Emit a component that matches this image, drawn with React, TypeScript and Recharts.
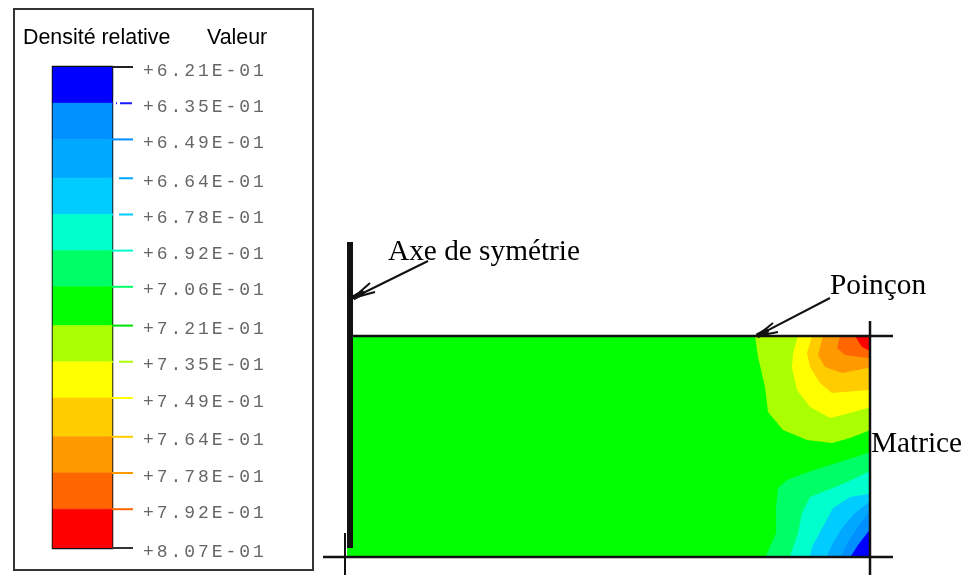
import React from "react";
import { BarChart, Bar, XAxis, YAxis, ReferenceArea, ComposedChart, Area, ReferenceLine } from "recharts";

// ---------- colour scale (relative density) ----------
const scaleEdges = [0.621, 0.635, 0.649, 0.664, 0.678, 0.692, 0.706, 0.721, 0.735, 0.749, 0.764, 0.778, 0.792, 0.807];
const scaleLabels = ["+6.21E-01", "+6.35E-01", "+6.49E-01", "+6.64E-01", "+6.78E-01", "+6.92E-01", "+7.06E-01", "+7.21E-01", "+7.35E-01", "+7.49E-01", "+7.64E-01", "+7.78E-01", "+7.92E-01", "+8.07E-01"];
const bandColors = ["#0000ff", "#0090ff", "#00a8ff", "#00ccff", "#00ffcc", "#00ff66", "#00ff00", "#aaff00", "#ffff00", "#ffcc00", "#ff9900", "#ff6600", "#ff0000"];
const tickColors = ["#222222", "#1a1aff", "#0090ff", "#00a8ff", "#00ccff", "#00ffcc", "#00ff66", "#00e000", "#aaff00", "#ffff00", "#ffcc00", "#ff9900", "#ff6600", "#333333"];
const tickDashes = ["", "1 3 1 3 12", "", "0 7 14", "1 6 14", "", "", "", "1 6 14", "", "", "", "", ""];

// ---------- contour boundaries, part coordinates ----------
type Pt = [number, number];
const PART_LEFT = -2;
const PART_W = 521;
const PART_H = 220;
const punchContours: { color: string; pts: Pt[] }[] = [
  { color: "#aaff00", pts: [[406, 0], [409, 21], [416, 51], [419, 76], [434, 94], [458, 104], [483, 107], [501, 102], [519, 95], [521, 94]] },
  { color: "#ffff00", pts: [[449, 0], [444, 17], [443, 32], [448, 54], [461, 71], [481, 82], [501, 77], [519, 72], [521, 71]] },
  { color: "#ffcc00", pts: [[463, 0], [458, 17], [461, 31], [471, 47], [483, 57], [519, 54], [521, 54]] },
  { color: "#ff9900", pts: [[474, 0], [469, 19], [476, 31], [493, 37], [519, 32], [521, 31]] },
  { color: "#ff6600", pts: [[491, 0], [488, 12], [496, 19], [519, 22], [521, 22]] },
  { color: "#ff0000", pts: [[506, 0], [513, 11], [519, 14], [521, 14]] },
];
const dieContours: { color: string; pts: Pt[] }[] = [
  { color: "#00ff66", pts: [[417, 220], [427, 197], [427, 171], [429, 152], [438, 144], [459, 136], [519, 117], [521, 116]] },
  { color: "#00ffcc", pts: [[441, 220], [449, 197], [453, 177], [461, 161], [496, 147], [521, 135]] },
  { color: "#00ccff", pts: [[461, 220], [463, 211], [476, 187], [484, 172], [501, 161], [519, 158], [521, 158]] },
  { color: "#00a8ff", pts: [[478, 220], [483, 209], [493, 192], [506, 177], [519, 167], [521, 166]] },
  { color: "#0090ff", pts: [[492, 220], [499, 206], [509, 191], [519, 177], [521, 176]] },
  { color: "#0000ff", pts: [[502, 220], [509, 209], [519, 196], [521, 194]] },
];

// ---------- tooling lines and arrows, part coordinates ----------
type Seg = [number, number, number, number, number];
const toolSegments: Seg[] = [
  [0, 0, 544, 0, 2.5],
  [-26, 221, 544, 221, 2.5],
  [521, -15, 521, 239, 2.5],
  [-4, 197, -4, 239, 2],
  [1, -94, 1, 212, 6],
  [79, -75, 4, -38, 2],
  [4, -38, 21, -53, 2],
  [4, -38, 26, -44, 2],
  [4, -38, 15, -44, 5],
  [481, -38, 408, 0, 2],
  [408, 0, 424, -13, 2],
  [408, 0, 429, -4, 2],
  [408, 0, 419, -6, 5],
];

const scaleRow: Record<string, number | string> = { name: "scale" };
bandColors.forEach((_, i) => {
  scaleRow["b" + i] = i === 0 ? scaleEdges[1] : scaleEdges[i + 1] - scaleEdges[i];
});

const ScaleTick = (props: any) => {
  const { x, y, index } = props;
  return (
    <g>
      <line x1={x} x2={x + 21} y1={y} y2={y} stroke={tickColors[index]} strokeWidth={2} strokeDasharray={tickDashes[index] || undefined} />
      <text x={x + 31} y={y + 8.5} fontFamily="'Liberation Mono', monospace" fontSize={18} fill="#666666" letterSpacing={2.95}>
        {scaleLabels[index]}
      </text>
    </g>
  );
};

const textBase: React.CSSProperties = { position: "absolute", whiteSpace: "nowrap", lineHeight: 1, color: "#000" };
const sans: React.CSSProperties = { ...textBase, fontFamily: "'Liberation Sans', Arial, sans-serif", fontSize: 21.4 };
const serif: React.CSSProperties = { ...textBase, fontFamily: "'Liberation Serif', 'Times New Roman', serif", fontSize: 29.3 };

export default function App() {
  return (
    <div style={{ position: "absolute", left: 0, top: 0, width: 962, height: 575, background: "#fff", overflow: "hidden", filter: "blur(0.5px)" }}>
      <div style={{ position: "absolute", left: 13, top: 8, width: 297, height: 559, border: "2.5px solid #333" }} />
      <div style={{ position: "absolute", left: 0, top: 0 }}>
        <BarChart width={320} height={575} data={[scaleRow]} margin={{ top: 67, bottom: 27, left: 53, right: 0 }} barCategoryGap={0}>
          <XAxis dataKey="name" hide />
          <YAxis
            orientation="right"
            type="number"
            width={208}
            reversed
            domain={[scaleEdges[0], scaleEdges[scaleEdges.length - 1]]}
            allowDataOverflow
            ticks={scaleEdges}
            interval={0}
            tickSize={0}
            tickMargin={0}
            axisLine={false}
            tickLine={false}
            tick={ScaleTick}
          />
          {bandColors.map((c, i) => (
            <Bar key={c} dataKey={"b" + i} stackId="scale" fill={c} stroke={c} strokeWidth={0.6} isAnimationActive={false} />
          ))}
          <ReferenceArea y1={scaleEdges[0]} y2={scaleEdges[scaleEdges.length - 1]} fill="none" stroke="#111" strokeWidth={2.5} ifOverflow="visible" />
        </BarChart>
      </div>
      <div style={{ position: "absolute", left: 0, top: 0 }}>
        <ComposedChart width={962} height={575} margin={{ top: 0, bottom: 0, left: 0, right: 0 }}>
          <XAxis type="number" dataKey="x" hide domain={[-349, 613]} allowDataOverflow />
          <YAxis type="number" hide reversed domain={[-336, 239]} allowDataOverflow />
          <Area
            data={[{ x: PART_LEFT, band: [0, PART_H] }, { x: PART_W, band: [0, PART_H] }]}
            dataKey="band"
            type="linear"
            fill="#00ff00"
            fillOpacity={1}
            stroke="none"
            dot={false}
            activeDot={false}
            isAnimationActive={false}
          />
          {punchContours.map((c) => (
            <Area
              key={c.color}
              data={c.pts.map(([x, y]) => ({ x, band: [0, y] }))}
              dataKey="band"
              type="linear"
              fill={c.color}
              fillOpacity={1}
              stroke="none"
              dot={false}
              activeDot={false}
              isAnimationActive={false}
            />
          ))}
          {dieContours.map((c) => (
            <Area
              key={c.color}
              data={c.pts.map(([x, y]) => ({ x, band: [y, PART_H] }))}
              dataKey="band"
              type="linear"
              fill={c.color}
              fillOpacity={1}
              stroke="none"
              dot={false}
              activeDot={false}
              isAnimationActive={false}
            />
          ))}
          {toolSegments.map(([x1, y1, x2, y2, w], i) => (
            <ReferenceLine
              key={i}
              segment={[{ x: x1, y: y1 }, { x: x2, y: y2 }]}
              stroke="#111"
              strokeWidth={w}
              ifOverflow="visible"
            />
          ))}
        </ComposedChart>
      </div>
      <div style={{ ...sans, left: 23, top: 26.5 }}>Densité relative</div>
      <div style={{ ...sans, left: 207, top: 26.5 }}>Valeur</div>
      <div style={{ ...serif, left: 388, top: 235.5 }}>Axe de symétrie</div>
      <div style={{ ...serif, left: 830, top: 269.5 }}>Poinçon</div>
      <div style={{ ...serif, left: 871, top: 427.5 }}>Matrice</div>
    </div>
  );
}
